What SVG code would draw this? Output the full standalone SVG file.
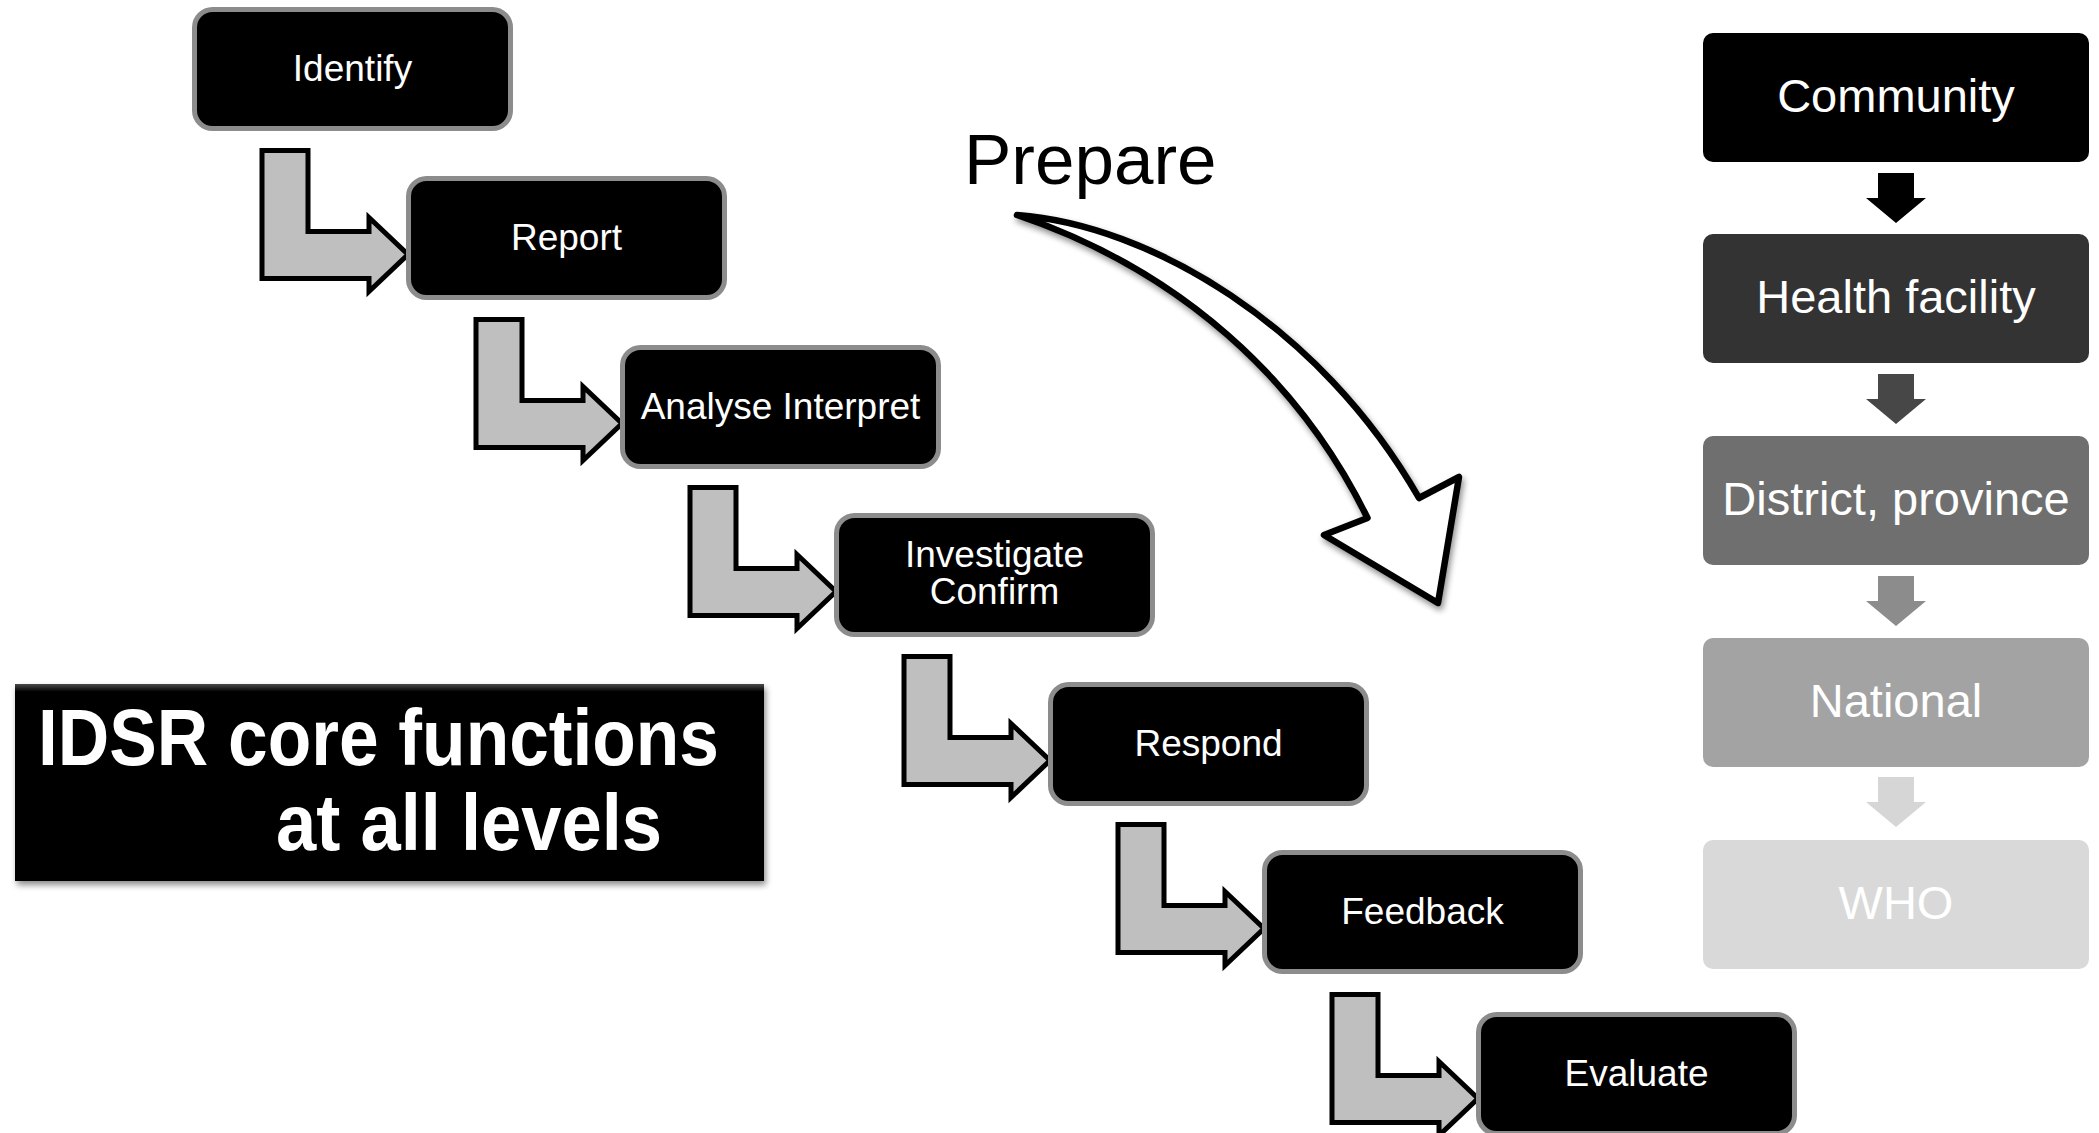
<svg xmlns="http://www.w3.org/2000/svg" width="2099" height="1133" viewBox="0 0 2099 1133">
<style>
.box{fill:#000;stroke:#8c8c8c;stroke-width:5}
.bt{font-family:"Liberation Sans",Arial,sans-serif;font-size:37px;fill:#fff;text-anchor:middle}
.elbow{fill:#bfbfbf;stroke:#000;stroke-width:5;stroke-linejoin:miter}
.lvl{font-family:"Liberation Sans",Arial,sans-serif;font-size:47px;fill:#fff;text-anchor:middle}
.title{font-family:"Liberation Sans",Arial,sans-serif;font-size:80px;font-weight:bold;fill:#fff}
</style>
<defs>
<filter id="sh" x="-10%" y="-10%" width="130%" height="130%">
<feGaussianBlur in="SourceAlpha" stdDeviation="3"/>
<feOffset dx="2" dy="4" result="b"/>
<feComponentTransfer><feFuncA type="linear" slope="0.45"/></feComponentTransfer>
<feMerge><feMergeNode/><feMergeNode in="SourceGraphic"/></feMerge>
</filter>
<linearGradient id="bev" x1="0" y1="0" x2="0" y2="1">
<stop offset="0" stop-color="#4a4a4a"/>
<stop offset="0.04" stop-color="#000"/>
<stop offset="1" stop-color="#000"/>
</linearGradient>
</defs>
<rect width="2099" height="1133" fill="#fff"/>

<g id="connectors">
<path class="elbow" d="M262 150.5H308V231.5H369V217.5L408 254.5L369 291.5V278.5H262Z"/>
<path class="elbow" d="M476 319.5H522V400.5H583V386.5L622 423.5L583 460.5V447.5H476Z"/>
<path class="elbow" d="M690 487.5H736V568.5H797V554.5L836 591.5L797 628.5V615.5H690Z"/>
<path class="elbow" d="M904 656.5H950V737.5H1011V723.5L1050 760.5L1011 797.5V784.5H904Z"/>
<path class="elbow" d="M1118 824.5H1164V905.5H1225V891.5L1264 928.5L1225 965.5V952.5H1118Z"/>
<path class="elbow" d="M1332 994.5H1378V1075.5H1439V1061.5L1478 1098.5L1439 1135.5V1122.5H1332Z"/>
<g id="level-arrows">
<path d="M1878 173H1914V198H1926L1896 223L1866 198H1878Z" fill="#000"/>
<path d="M1878 374H1914V399H1926L1896 424L1866 399H1878Z" fill="#474747"/>
<path d="M1878 576H1914V601H1926L1896 626L1866 601H1878Z" fill="#8c8c8c"/>
<path d="M1878 777H1914V802H1926L1896 827L1866 802H1878Z" fill="#d6d6d6"/>
</g>
<path id="prepare-arrow" filter="url(#sh)" d="M1017 215C1150 225 1320 325 1419 498L1459 477L1438 603L1324 535L1367.5 518C1300 380 1180 270 1017 215Z" fill="#fff" stroke="#000" stroke-width="6.5" stroke-linejoin="round"/>
</g>

<g id="identify"><rect class="box" x="194.5" y="9.5" width="316" height="119" rx="18"/><text class="bt" x="352.5" y="81">Identify</text></g>
<g id="report"><rect class="box" x="408.5" y="178.5" width="316" height="119" rx="18"/><text class="bt" x="566.5" y="250">Report</text></g>
<g id="analyse"><rect class="box" x="622.5" y="347.5" width="316" height="119" rx="18"/><text class="bt" x="780.5" y="419">Analyse Interpret</text></g>
<g id="investigate"><rect class="box" x="836.5" y="515.5" width="316" height="119" rx="18"/><text class="bt" x="994.5" y="567">Investigate</text><text class="bt" x="994.5" y="604">Confirm</text></g>
<g id="respond"><rect class="box" x="1050.5" y="684.5" width="316" height="119" rx="18"/><text class="bt" x="1208.5" y="756">Respond</text></g>
<g id="feedback"><rect class="box" x="1264.5" y="852.5" width="316" height="119" rx="18"/><text class="bt" x="1422.5" y="924">Feedback</text></g>
<g id="evaluate"><rect class="box" x="1478.5" y="1014.5" width="316" height="119" rx="18"/><text class="bt" x="1636.5" y="1086">Evaluate</text></g>

<g id="prepare"><text x="964" y="184" font-family="'Liberation Sans',Arial,sans-serif" font-size="71" fill="#000">Prepare</text></g>

<g id="community"><rect x="1703" y="33" width="386" height="129" rx="10" fill="#000"/><text class="lvl" x="1896" y="112">Community</text></g>
<g id="health-facility"><rect x="1703" y="234" width="386" height="129" rx="10" fill="#333333"/><text class="lvl" x="1896" y="313">Health facility</text></g>
<g id="district"><rect x="1703" y="436" width="386" height="129" rx="10" fill="#6f6f6f"/><text class="lvl" x="1896" y="515">District, province</text></g>
<g id="national"><rect x="1703" y="638" width="386" height="129" rx="10" fill="#a3a3a3"/><text class="lvl" x="1896" y="717">National</text></g>
<g id="who"><rect x="1703" y="840" width="386" height="129" rx="10" fill="#d9d9d9"/><text class="lvl" x="1896" y="919">WHO</text></g>

<g id="idsr"><rect x="15" y="684" width="749" height="197" fill="url(#bev)" filter="url(#sh)"/><text class="title" x="38" y="765" textLength="681" lengthAdjust="spacingAndGlyphs">IDSR core functions</text><text class="title" x="276" y="850" textLength="386" lengthAdjust="spacingAndGlyphs">at all levels</text></g>
</svg>
